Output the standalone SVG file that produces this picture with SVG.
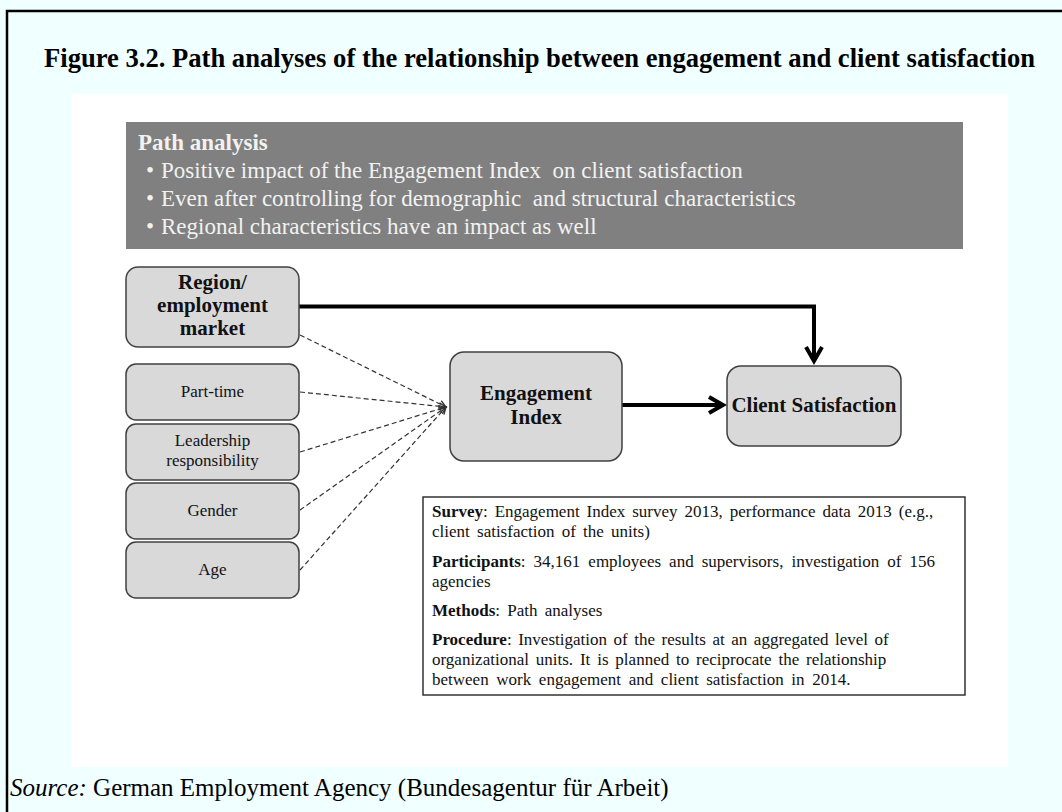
<svg xmlns="http://www.w3.org/2000/svg" width="1062" height="812" viewBox="0 0 1062 812">
<defs>
<style>
text{font-family:"Liberation Serif","Times New Roman",serif}
.title{font-size:26.6px;font-weight:bold;fill:#000}
.hdr{font-size:23px;fill:#f2f2f2}
.node rect{fill:#d9d9d9;stroke:#404040;stroke-width:1.5}
.nb{font-size:21px;font-weight:bold;fill:#111;text-anchor:middle}
.ns{font-size:17px;fill:#111;text-anchor:middle}
.info{font-size:17px;fill:#111}
.b{font-weight:bold}
.thick{stroke:#000;stroke-width:4;fill:none}
.dash{stroke:#333;stroke-width:1.2;stroke-dasharray:5 3;fill:none}
</style>
<marker id="ah" markerUnits="userSpaceOnUse" markerWidth="40" markerHeight="40" viewBox="-20 -20 40 40" refX="0" refY="0" orient="auto">
<path d="M-14,-8 L0,0 L-14,8" fill="none" stroke="#000" stroke-width="4"/>
</marker>
<marker id="ad" markerUnits="userSpaceOnUse" markerWidth="20" markerHeight="20" viewBox="-10 -10 20 20" refX="0" refY="0" orient="auto">
<path d="M-7,-3.5 L0,0 L-7,3.5" fill="none" stroke="#333" stroke-width="1.3"/>
</marker>
</defs>

<rect x="0" y="0" width="1062" height="812" fill="#F0FFFF"/>
<rect x="72" y="94" width="936" height="673" fill="#FFFFFF"/>
<path d="M7,812 V11 H1062" fill="none" stroke="#000" stroke-width="2.5"/>

<text class="title" x="44" y="67">Figure 3.2. Path analyses of the relationship between engagement and client satisfaction</text>

<g id="summary">
<rect x="126" y="122" width="837" height="127" fill="#808080"/>
<text class="hdr b" x="138" y="150">Path analysis</text>
<text class="hdr" x="146" y="178">•</text>
<text class="hdr" x="161" y="178" xml:space="preserve">Positive impact of the Engagement Index  on client satisfaction</text>
<text class="hdr" x="146" y="206">•</text>
<text class="hdr" x="161" y="206" xml:space="preserve">Even after controlling for demographic  and structural characteristics</text>
<text class="hdr" x="146" y="234">•</text>
<text class="hdr" x="161" y="234">Regional characteristics have an impact as well</text>
</g>

<g id="connectors">
<path class="thick" d="M299,306.5 H814 V361" marker-end="url(#ah)"/>
<path class="thick" d="M622,405 H723" marker-end="url(#ah)"/>
<path class="dash" d="M300,335 L446,407" marker-end="url(#ad)"/>
<path class="dash" d="M300,392 L446,407" marker-end="url(#ad)"/>
<path class="dash" d="M300,452 L446,407" marker-end="url(#ad)"/>
<path class="dash" d="M300,510 L446,407" marker-end="url(#ad)"/>
<path class="dash" d="M300,570 L446,407" marker-end="url(#ad)"/>
</g>

<g id="region" class="node">
<rect x="126" y="267" width="173" height="80" rx="12"/>
<text class="nb" x="212.5" y="289">Region/</text>
<text class="nb" x="212.5" y="312">employment</text>
<text class="nb" x="212.5" y="335">market</text>
</g>
<g id="parttime" class="node">
<rect x="126" y="364" width="173" height="56" rx="10"/>
<text class="ns" x="212.5" y="397">Part-time</text>
</g>
<g id="leadership" class="node">
<rect x="126" y="424" width="173" height="56" rx="10"/>
<text class="ns" x="212.5" y="446">Leadership</text>
<text class="ns" x="212.5" y="466">responsibility</text>
</g>
<g id="gender" class="node">
<rect x="126" y="483" width="173" height="56" rx="10"/>
<text class="ns" x="212.5" y="516">Gender</text>
</g>
<g id="age" class="node">
<rect x="126" y="542" width="173" height="56" rx="10"/>
<text class="ns" x="212.5" y="575">Age</text>
</g>
<g id="engagement" class="node">
<rect x="450" y="352" width="172" height="109" rx="14"/>
<text class="nb" x="536" y="400" font-size="20.5">Engagement</text>
<text class="nb" x="536" y="423.5" font-size="20.5">Index</text>
</g>
<g id="client" class="node">
<rect x="727" y="366" width="174" height="80" rx="14"/>
<text class="nb" x="814" y="412">Client Satisfaction</text>
</g>

<g id="info">
<rect x="423" y="497" width="542" height="198" fill="#FFFFFF" stroke="#333" stroke-width="1.5"/>
<text class="info" x="432" y="517" word-spacing="2.7"><tspan class="b">Survey</tspan>: Engagement Index survey 2013, performance data 2013 (e.g.,</text>
<text class="info" x="432" y="537" word-spacing="3">client satisfaction of the units)</text>
<text class="info" x="432" y="567" word-spacing="3.8"><tspan class="b">Participants</tspan>: 34,161 employees and supervisors, investigation of 156</text>
<text class="info" x="432" y="587">agencies</text>
<text class="info" x="432" y="616" word-spacing="3"><tspan class="b">Methods</tspan>: Path analyses</text>
<text class="info" x="432" y="645" word-spacing="2.3"><tspan class="b">Procedure</tspan>: Investigation of the results at an aggregated level of</text>
<text class="info" x="432" y="665" word-spacing="2.6">organizational units. It is planned to reciprocate the relationship</text>
<text class="info" x="432" y="685" word-spacing="3.4">between work engagement and client satisfaction in 2014.</text>
</g>

<text x="10" y="796" font-size="25" fill="#000"><tspan font-style="italic">Source:</tspan> German Employment Agency (Bundesagentur für Arbeit)</text>
</svg>
